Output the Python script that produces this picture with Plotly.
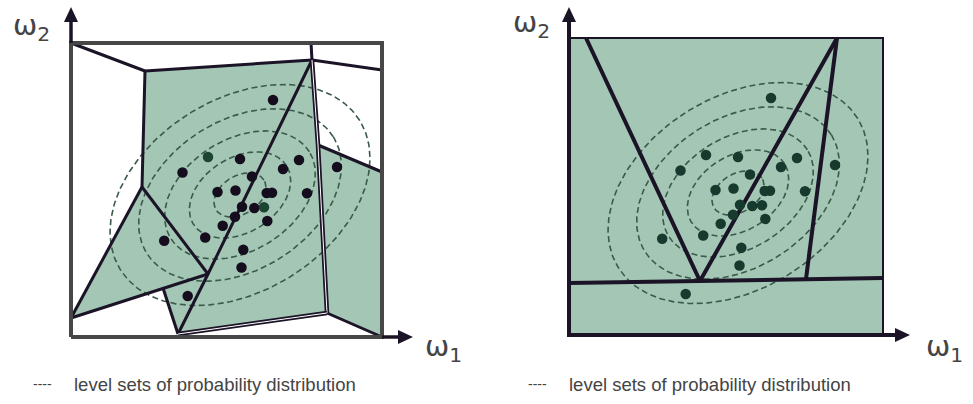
import numpy as np
import plotly.graph_objects as go

# ---------------- data ----------------
# sample points (omega_1, omega_2), shared by both panels
sample_w1 = [202, 137, 169, 228, 266, 111.5, 212, 181, 146.5, 164.5, 195.7, 201,
             236, 171, 183.3, 193, 164, 196.3, 151.7, 93.2, 134.2, 172.3, 170.5, 116.7]
sample_w2 = [237, 180, 178, 177, 170, 164.5, 168, 160.5, 145, 146.5, 144, 144.3,
             143.7, 130.3, 129, 129.7, 120.3, 116, 111.2, 96.3, 99.5, 87.3, 69.5, 41]
sample_tint = [0, 1, 0, 0, 0, 0, 0, 0, 0, 0, 0, 0,
               0, 0, 0, 1, 0, 0, 0, 0, 0, 0, 0, 0]

# Gaussian level sets: centre, semi-axes, tilt (deg) and relative levels
dist_center = (169, 142)
dist_axes = (141, 96)
dist_tilt = 32
level_scales = [0.2, 0.39, 0.58, 0.78, 1.0]

# domain boxes
left_box = (311, 294)
right_box = (314, 297)

# left panel: Voronoi-like partition (vertices)
V = {
    "A": (0, 294), "B": (74, 266), "C": (241, 277), "Ct": (240, 294),
    "TR": (311, 267), "D": (71, 150), "G": (0, 19), "I": (92, 49),
    "H": (137, 63), "J": (107, 3), "K": (256, 24), "M": (247, 192),
    "N": (311, 165), "L": (311, 0),
}
left_cells = [
    ["B", "C", "H", "D"],
    ["C", "M", "K", "J", "H"],
    ["I", "H", "J"],
    ["D", "H", "I", "G"],
    ["M", "N", "L", "K"],
]
left_edges = [
    ["A", "B"], ["B", "C"], ["C", "Ct"], ["C", "TR"], ["B", "D"],
    ["D", "G"], ["D", "H"], ["G", "I", "H"], ["I", "J"], ["C", "H", "J"],
    ["K", "L"], ["M", "N"],
]
left_double_edges = [["C", "M", "K"], ["J", "K"]]

# right panel: partition lines
right_edges = [
    [(17, 297), (131, 54), (268, 297)],
    [(268, 297), (237, 56)],
    [(0, 52), (314, 57)],
]

# ---------------- styles ----------------
GREEN = "#a4c6b5"
LINE = "#1b1326"
BOX_GREY = "#474747"
DASH_COL = "#3b5a4b"
DOT_DARK = "#150d1e"
DOT_GREEN = "#1c4433"
DOT_RIGHT = "#163a2d"
TEXT_COL = "#444444"

fig = go.Figure()


def ellipse_xy(scale):
    t = np.linspace(0, 2 * np.pi, 240)
    th = np.radians(dist_tilt)
    a, b = dist_axes[0] * scale, dist_axes[1] * scale
    x = dist_center[0] + a * np.cos(t) * np.cos(th) - b * np.sin(t) * np.sin(th)
    y = dist_center[1] + a * np.cos(t) * np.sin(th) + b * np.sin(t) * np.cos(th)
    return x, y


def add_line(pts, xa, ya, color=LINE, width=3, dash=None):
    fig.add_trace(go.Scatter(
        x=[p[0] for p in pts], y=[p[1] for p in pts], mode="lines",
        line=dict(color=color, width=width, dash=dash), xaxis=xa, yaxis=ya,
        hoverinfo="skip", showlegend=False))


# ---- left panel ----
for cell in left_cells:
    pts = [V[k] for k in cell] + [V[cell[0]]]
    fig.add_trace(go.Scatter(
        x=[p[0] for p in pts], y=[p[1] for p in pts], mode="lines",
        fill="toself", fillcolor=GREEN, line=dict(width=0),
        xaxis="x", yaxis="y", hoverinfo="skip", showlegend=False))

for s in level_scales:
    ex, ey = ellipse_xy(s)
    add_line(list(zip(ex, ey)), "x", "y", color=DASH_COL, width=1.6, dash="6px,3.5px")

for e in left_edges:
    add_line([V[k] for k in e], "x", "y", width=3)
for e in left_double_edges:
    add_line([V[k] for k in e], "x", "y", width=4.5)
    add_line([V[k] for k in e], "x", "y", color="white", width=1)

W, H = left_box
add_line([(0, 0), (W, 0), (W, H), (0, H), (0, 0)], "x", "y", color=BOX_GREY, width=4)
add_line([(0, H), (0, 318)], "x", "y", width=3.5)
add_line([(W, 0), (328, 0)], "x", "y", width=3.5)

fig.add_trace(go.Scatter(
    x=sample_w1, y=sample_w2, mode="markers",
    marker=dict(size=10.5, color=[DOT_GREEN if t else DOT_DARK for t in sample_tint]),
    xaxis="x", yaxis="y", hoverinfo="skip", showlegend=False))

# ---- right panel ----
W2, H2 = right_box
fig.add_trace(go.Scatter(
    x=[0, W2, W2, 0, 0], y=[0, 0, H2, H2, 0], mode="lines", fill="toself",
    fillcolor=GREEN, line=dict(width=0), xaxis="x2", yaxis="y2",
    hoverinfo="skip", showlegend=False))
for s in level_scales:
    ex, ey = ellipse_xy(s)
    add_line(list(zip(ex, ey)), "x2", "y2", color=DASH_COL, width=1.6, dash="6px,3.5px")
for e in right_edges:
    add_line(e, "x2", "y2", width=4)
add_line([(0, H2), (W2, H2), (W2, 0)], "x2", "y2", width=2)
add_line([(0, 316), (0, 0), (326, 0)], "x2", "y2", width=4)
fig.add_trace(go.Scatter(
    x=sample_w1, y=sample_w2, mode="markers",
    marker=dict(size=10.5, color=DOT_RIGHT),
    xaxis="x2", yaxis="y2", hoverinfo="skip", showlegend=False))

# arrowheads
shapes = []
for xr, yr, tip_up, tip_right in [("x", "y", 330, 342), ("x2", "y2", 328, 341)]:
    shapes.append(dict(type="path", xref=xr, yref=yr, line=dict(width=0), fillcolor=LINE,
                       path=f"M -7 {tip_up - 15} L 7 {tip_up - 15} L 0 {tip_up} Z"))
    shapes.append(dict(type="path", xref=xr, yref=yr, line=dict(width=0), fillcolor=LINE,
                       path=f"M {tip_right - 15} -7 L {tip_right - 15} 7 L {tip_right} 0 Z"))

# text
ann = []
lab_font = dict(family="DejaVu Sans", size=29, color=TEXT_COL)
for xr, yr, up, right in [("x", "y", (-40, 310), (372, -11)), ("x2", "y2", (-38, 311), (375, -13))]:
    ann.append(dict(xref=xr, yref=yr, x=up[0], y=up[1], text="ω<sub>2</sub>",
                    showarrow=False, font=lab_font))
    ann.append(dict(xref=xr, yref=yr, x=right[0], y=right[1], text="ω<sub>1</sub>",
                    showarrow=False, font=lab_font))
leg_font = dict(family="Liberation Sans", size=18.5, color=TEXT_COL)
for xr, yr, dx, tx, y in [("x", "y", -29, 1, -47), ("x2", "y2", -32, -2, -49)]:
    ann.append(dict(xref=xr, yref=yr, x=dx, y=y, text="----", showarrow=False,
                    font=dict(family="Liberation Sans", size=14, color=TEXT_COL)))
    ann.append(dict(xref=xr, yref=yr, x=tx, y=y, xanchor="left",
                    text="level sets of probability distribution", showarrow=False, font=leg_font))

ax_common = dict(visible=False, showgrid=False, zeroline=False, fixedrange=True)
fig.update_layout(
    width=973, height=404, margin=dict(l=0, r=0, t=0, b=0),
    paper_bgcolor="white", plot_bgcolor="white", showlegend=False,
    xaxis=dict(domain=[0, 486 / 973], range=[-71, 415], **ax_common),
    yaxis=dict(domain=[0, 1], range=[-67, 337], **ax_common),
    xaxis2=dict(domain=[486 / 973, 1], range=[-83, 404], **ax_common),
    yaxis2=dict(domain=[0, 1], range=[-69, 335], **ax_common),
    shapes=shapes, annotations=ann,
)

fig.write_html("out.html")
